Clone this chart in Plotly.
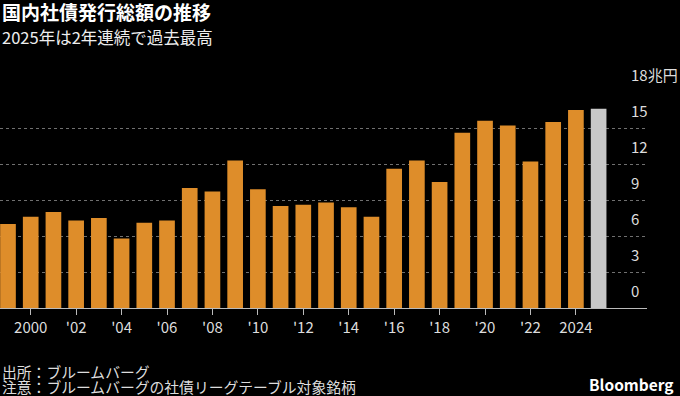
import plotly.graph_objects as go

years = list(range(1999, 2026))
values = [7.0, 7.6, 8.0, 7.3, 7.5, 5.8, 7.1, 7.3, 10.0, 9.7, 12.3, 9.9, 8.5, 8.6, 8.8,
          8.4, 7.6, 11.6, 12.3, 10.5, 14.6, 15.6, 15.2, 12.2, 15.5, 16.5, 16.6]
x_tickvals = list(range(2000, 2025, 2))
x_ticktext = ["2000", "'02", "'04", "'06", "'08", "'10", "'12", "'14", "'16", "'18", "'20", "'22", "2024"]
y_tickvals = [0, 3, 6, 9, 12, 15, 18]
y_ticktext = ["0", "3", "6", "9", "12", "15", "18兆円"]

ORANGE = "#DE8D2A"
GRAY = "#C8C8C8"
colors = [ORANGE] * (len(years) - 1) + [GRAY]

FONT = "Noto Sans CJK JP"

fig = go.Figure(go.Bar(x=years, y=values, marker=dict(color=colors, line=dict(width=0)),
                       width=0.69, hoverinfo="x+y"))

fig.update_layout(
    width=680, height=396,
    margin=dict(l=0, r=33, t=92, b=88),
    paper_bgcolor="#000000", plot_bgcolor="#000000",
    font=dict(family=FONT, color="#dddddd", size=15),
    showlegend=False,
    bargap=0.3,
)
fig.update_xaxes(
    range=[1998.648, 2027.13],
    tickvals=x_tickvals, ticktext=x_ticktext,
    ticks="outside", ticklen=6, tickcolor="#bbbbbb", tickwidth=1,
    showline=True, linecolor="#bbbbbb", linewidth=1,
    showgrid=False, zeroline=False,
    tickfont=dict(size=15, color="#dddddd", family=FONT),
)
fig.update_yaxes(
    range=[0, 18], side="right",
    tickvals=y_tickvals, ticktext=y_ticktext,
    ticks="", showline=False, zeroline=False,
    showgrid=True, gridcolor="#707070", griddash="dot", gridwidth=1,
    ticklabelposition="outside", ticklabelstandoff=-17, ticklabelshift=-16,
    automargin=False,
    tickfont=dict(size=15, color="#dddddd", family=FONT),
)

def py(p):
    return (308.0 - p) / 216.0

title_text = ("<b><span style='font-size:19px;color:#ffffff'>国内社債発行総額の推移</span></b><br>"
              "<span style='font-size:16.5px;color:#eeeeee'>2025年は2年連続で過去最高</span>")
footer_text = ("<span style='font-size:14.8px'>出所：ブルームバーグ</span><br>"
               "<span style='font-size:14.8px'>注意：ブルームバーグの社債リーグテーブル対象銘柄</span>")

anns = [
    dict(text=title_text, x=0, y=py(23.5), size=18.5, color="#ffffff", xanchor="left"),
    dict(text=footer_text, x=0, y=py(378.5), size=11.5, color="#dddddd", xanchor="left"),
    dict(text="<b>Bloomberg</b>", x=676 / 647, y=py(384), size=15.5, color="#ffffff", xanchor="right"),
]
for a in anns:
    fig.add_annotation(text=a["text"], x=a["x"], y=a["y"], xref="paper", yref="paper",
                       xanchor=a["xanchor"], yanchor="middle", showarrow=False, align="left",
                       font=dict(family=FONT, size=a["size"], color=a["color"]))

fig.write_html("out.html", config={"displayModeBar": False},
               post_script="document.body.style.margin='0';document.body.style.background='#000';")
